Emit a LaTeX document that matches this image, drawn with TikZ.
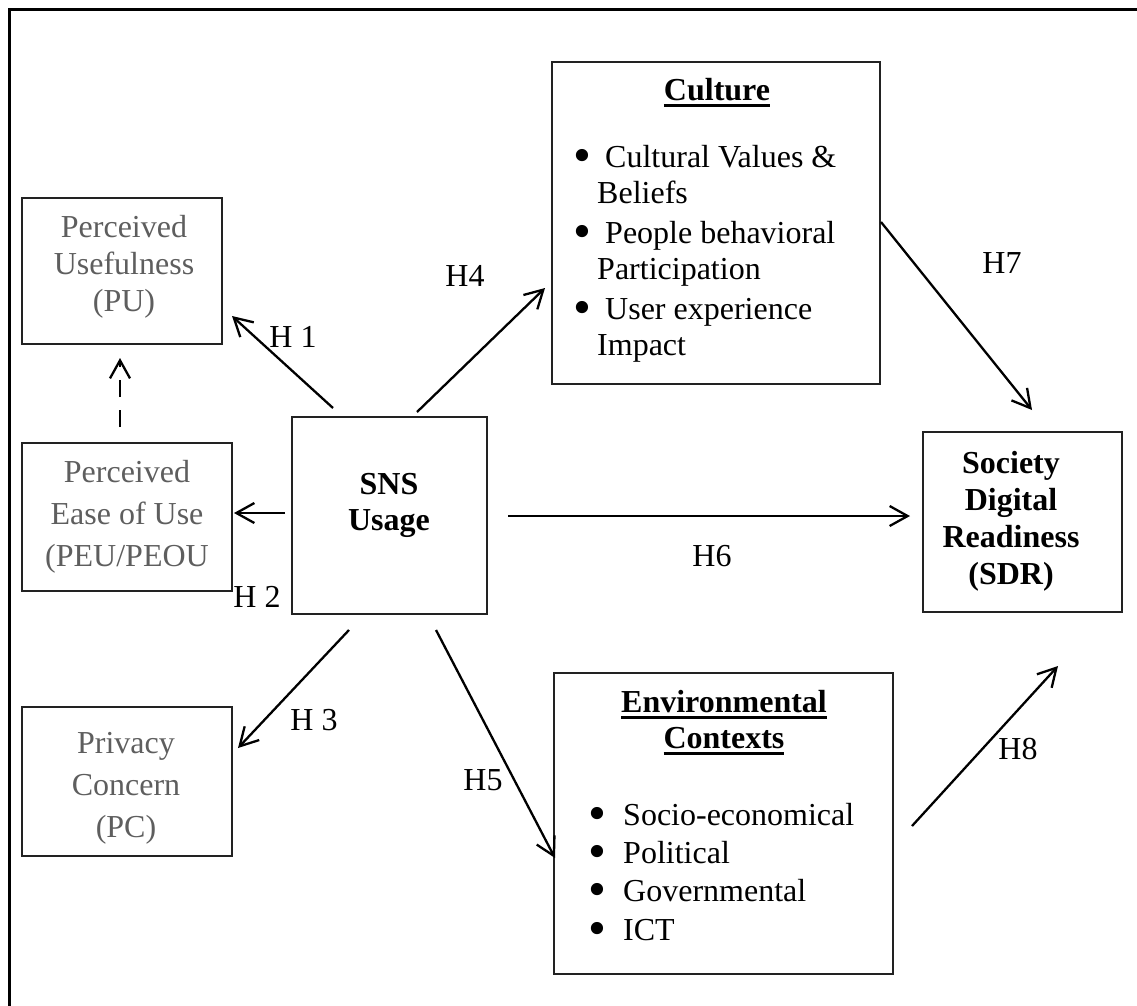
\documentclass[tikz,border=0pt]{standalone}
\usepackage{fontspec}
\setmainfont{Liberation Serif}
\usepackage{graphicx}
\usetikzlibrary{arrows.meta}

\definecolor{softgray}{HTML}{5E5E5E}
\definecolor{boxline}{HTML}{222222}

% enlarged list bullet
\newcommand{\bigbul}{\smash{\raisebox{-5pt}{\scalebox{1.6}{\textbullet}}}}
% heading with a heavy underline
\newcommand{\ulhead}[1]{\setbox0\hbox{#1}\rlap{\rule[-7pt]{\wd0}{3pt}}\box0}

\begin{document}
\begin{tikzpicture}[x=1pt,y=-1pt,
  every node/.style={inner sep=0pt},
  thinbox/.style={draw=boxline, line width=1.4pt, rectangle},
  thickbox/.style={draw=boxline, line width=2.8pt, rectangle},
  txt/.style={font=\fontsize{32}{37}\selectfont, align=center, anchor=north},
  graytxt/.style={txt, text=softgray},
  lbl/.style={font=\fontsize{32}{37}\selectfont},
  arr/.style={line width=2.3pt, -{Straight Barb[length=18pt,width=20pt]}}
]
\useasboundingbox (0,0) rectangle (1137,1005);

% outer frame (only its top and left sides fall on the page)
\draw[line width=3pt] (9,1030) -- (9,9) -- (1160,9);

% boxes
\node[thickbox, minimum width=200pt, minimum height=146pt] (pu)  at (122,271) {};
\node[thickbox, minimum width=210pt, minimum height=148pt] (peu) at (127,517) {};
\node[thickbox, minimum width=210pt, minimum height=149pt] (pc)  at (127,781.5) {};
\node[thinbox, minimum width=195pt, minimum height=197pt] (sns)  at (389.5,515.5) {};
\node[thinbox, minimum width=328pt, minimum height=322pt] (cult) at (716,223) {};
\node[thinbox, minimum width=339pt, minimum height=301pt] (env)  at (723.5,823.5) {};
\node[thinbox, minimum width=199pt, minimum height=180pt] (sdr)  at (1022.5,522) {};

% box texts
\node[graytxt] (putext) at (124,211.1) {\strut Perceived\\Usefulness\\(PU)};
\node[graytxt, font=\fontsize{32}{42}\selectfont] (peutext) at (127,452.6) {\strut Perceived\\Ease of Use\\(PEU/PEOU};
\node[graytxt, font=\fontsize{32}{42}\selectfont] (pctext) at (126,723.6) {\strut Privacy\\Concern\\(PC)};
\node[txt, font=\fontsize{32}{36}\selectfont\bfseries] (snstext) at (389,468.8) {\strut SNS\\Usage};
\node[txt, font=\fontsize{32}{37}\selectfont\bfseries] (sdrtext) at (1011,447.1) {\strut Society\\Digital\\Readiness\\(SDR)};

\node[txt, font=\fontsize{32}{37}\selectfont\bfseries] (culttitle) at (717,74.1) {\strut\ulhead{Culture}};
\node[txt, align=left, anchor=north west, font=\fontsize{32}{36}\selectfont] (cultlist) at (573,141.8)
  {\strut\makebox[24pt][l]{\bigbul}\ Cultural Values \&\\\hspace*{24pt}Beliefs\\[4pt]
   \makebox[24pt][l]{\bigbul}\ People behavioral\\\hspace*{24pt}Participation\\[4pt]
   \makebox[24pt][l]{\bigbul}\ User experience\\\hspace*{24pt}Impact};

\node[txt, font=\fontsize{32}{36}\selectfont\bfseries] (envtitle) at (724,686.8) {\strut\ulhead{Environmental}\\\ulhead{Contexts}};
\node[txt, align=left, anchor=north west, font=\fontsize{32}{38.3}\selectfont] (envlist) at (588,798.2)
  {\strut\makebox[35pt][l]{\bigbul}Socio-economical\\
   \makebox[35pt][l]{\bigbul}Political\\
   \makebox[35pt][l]{\bigbul}Governmental\\
   \makebox[35pt][l]{\bigbul}ICT};

% connector end points
\coordinate (h1s) at (333,408);  \coordinate (h1e) at (232,316);
\coordinate (h2s) at (285,513);  \coordinate (h2e) at (234,513);
\coordinate (h3s) at (349,630);  \coordinate (h3e) at (238,748);
\coordinate (h4s) at (417,412);  \coordinate (h4e) at (545,288);
\coordinate (h5s) at (436,630);  \coordinate (h5e) at (555,858);
\coordinate (h6s) at (508,516);  \coordinate (h6e) at (910,516);
\coordinate (h7s) at (881,222);  \coordinate (h7e) at (1032,410);
\coordinate (h8s) at (912,826);  \coordinate (h8e) at (1058,666);
\coordinate (ds)  at (120,427);  \coordinate (de)  at (120,358);

% connectors
\draw[arr] (h1s) -- (h1e);
\draw[arr] (h2s) -- (h2e);
\draw[arr] (h3s) -- (h3e);
\draw[arr] (h4s) -- (h4e);
\draw[arr] (h5s) -- (h5e);
\draw[arr] (h6s) -- (h6e);
\draw[arr] (h7s) -- (h7e);
\draw[arr] (h8s) -- (h8e);
\draw[arr, dash pattern=on 17pt off 13pt] (ds) -- (de);

% hypothesis labels
\node[lbl] (l1) at (293,337) {H 1};
\node[lbl] (l2) at (257,597) {H 2};
\node[lbl] (l3) at (314,720) {H 3};
\node[lbl] (l4) at (465,276) {H4};
\node[lbl] (l5) at (483,780) {H5};
\node[lbl] (l6) at (712,556) {H6};
\node[lbl] (l7) at (1002,263) {H7};
\node[lbl] (l8) at (1018,749) {H8};
\end{tikzpicture}
\end{document}
